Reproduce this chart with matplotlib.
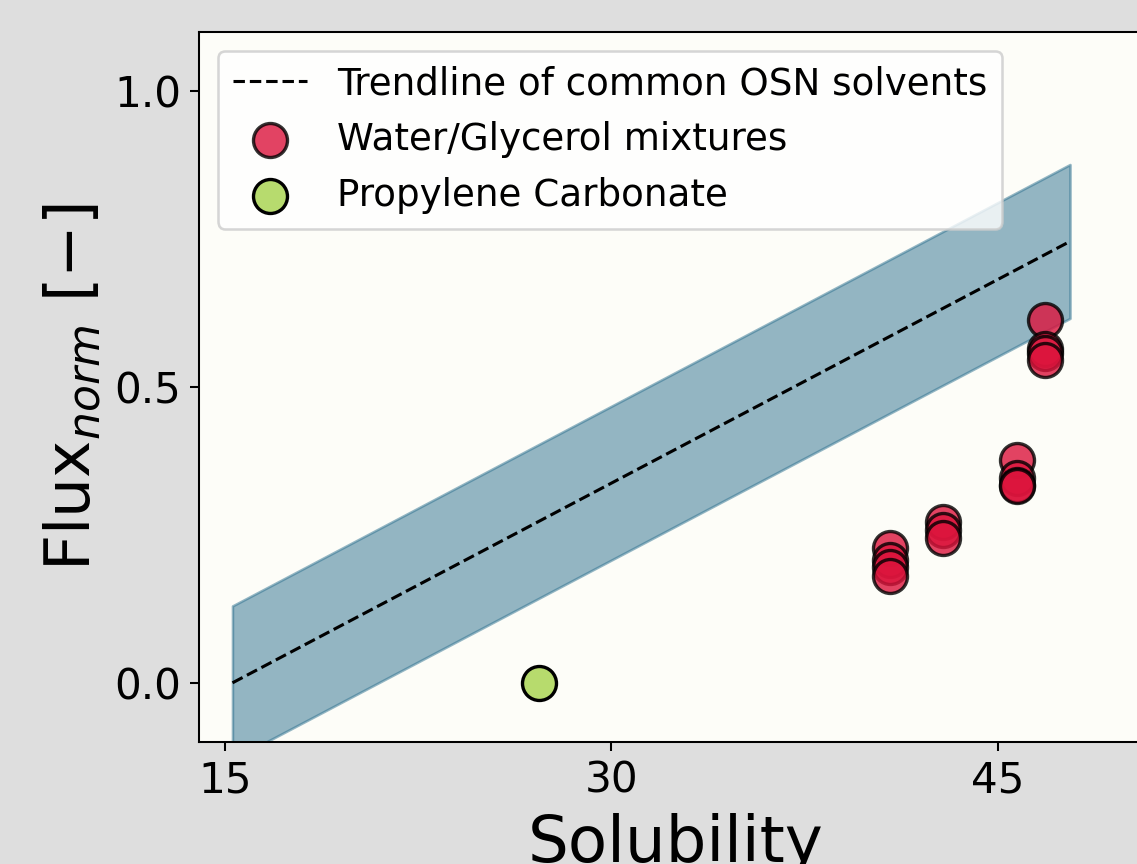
import numpy as np
import matplotlib
matplotlib.use('Agg')
import matplotlib.pyplot as plt

# trendline of common OSN solvents (end points) and band half-width
trend_x = [15.3, 47.8]
trend_y = [0.0, 0.746]
band_halfwidth = 0.13

# Water/Glycerol mixtures
wg_x = [40.8, 40.8, 40.8, 40.8,
        42.86, 42.86, 42.86,
        45.73, 45.73, 45.73, 45.73,
        46.82, 46.82, 46.82, 46.82]
wg_y = [0.228, 0.208, 0.195, 0.181,
        0.271, 0.258, 0.244,
        0.376, 0.347, 0.335, 0.332,
        0.614, 0.565, 0.558, 0.545]

# Propylene Carbonate
pc_x = [27.19]
pc_y = [0.0]

xticks = [15, 30, 45]
yticks = [0.0, 0.5, 1.0]

DPI = 185
fig = plt.figure(figsize=(1137 / DPI, 864 / DPI), dpi=DPI, facecolor='#dedede')
ax = fig.add_axes([0.175, 0.1412, 0.8386, 0.8218])
ax.set_facecolor('#fdfdf8')

tx = np.array(trend_x)
ty = np.array(trend_y)
ax.fill_between(tx, ty - band_halfwidth, ty + band_halfwidth,
                color='#2b6f8e', alpha=0.5, linewidth=1)
ax.plot(tx, ty, '--', color='black', linewidth=1.2,
        label='Trendline of common OSN solvents')

ax.scatter(wg_x, wg_y, s=175, facecolor=(0.863, 0.078, 0.235, 0.8),
           edgecolors=(0, 0, 0, 0.8), linewidths=1.3,
           label='Water/Glycerol mixtures', zorder=3)
ax.scatter(pc_x, pc_y, s=175, facecolor=(0.604, 0.804, 0.196, 0.7),
           edgecolors='black', linewidths=1.3,
           label='Propylene Carbonate', zorder=3)

ax.set_xlim(14, 51)
ax.set_ylim(-0.1, 1.1)
ax.set_xticks(xticks)
ax.set_yticks(yticks)
ax.set_yticklabels(['0.0', '0.5', '1.0'])
ax.tick_params(labelsize=16.4)

ax.set_xlabel('Solubility', fontsize=25)
ax.xaxis.set_label_coords(0.5, -0.1)
ax.set_ylabel(r'Flux$_{norm}$ [$-$]', fontsize=24.5)

ax.legend(loc='upper left', fontsize=14.5)

fig.savefig('out.png', dpi=DPI, facecolor=fig.get_facecolor())
